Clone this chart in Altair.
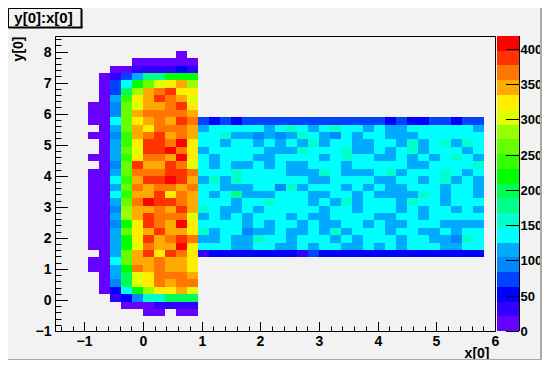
import altair as alt
import pandas as pd

X_MIN, X_MAX, Y_MIN, Y_MAX = -1.5, 6.0, -1.0, 8.5
NBINS = 40
Z_MAX = 418.0
PALETTE = ["#6600ff", "#3300ff", "#0000ff", "#0044ff", "#0088ff", "#00aaff", "#00ffff",
           "#00ffcc", "#00ff88", "#00ff55", "#00ff00", "#33ff00", "#66ff00", "#99ff00",
           "#e0ff00", "#ffee00", "#ffaa00", "#ff7700", "#ff3300", "#ff0000"]
DIGITS = "0123456789abcdefghij"

# colour level per bin, x bins 3..12, keyed by y bin
LEFT = {
    37: "........0.", 36: "....000000", 35: "..00111121", 34: ".013588aaa",
    33: ".036acefgd", 32: ".039dghiff", 31: ".05bfgihge", 30: "004cegghif",
    29: "004cghhhhg", 28: "006cfghgih", 27: ".05cgfhhhg", 26: "004bghighg",
    25: ".05bfiihjf", 24: ".05ceiijhf", 23: "005bfhhgjf", 22: ".04ciggihe",
    21: "005chhhiih", 20: "006bgiijig", 19: "005chghhgh", 18: "006bggifhg",
    17: "005chjiihg", 16: "004dgghgig", 15: "005dgihhhe", 14: "004afihgjf",
    13: "005cfgiggf", 12: "005afighih", 11: "005aehggjf", 10: ".05cgifihf",
    9: "006cgghggf", 8: "005ahghggf", 7: ".059efhhhg", 6: ".049efhghh",
    5: ".026adffge", 4: "..12477999", 3: "...0001111", 2: ".....00.00",
}
# colour level per bin, x bins 13..38, keyed by y bin
RIGHT = {
    28: "32323333333333333232233233"[:26],
    27: "56666656765676656556666665",
    26: "66755454576546566555666666",
    25: "66566565657566556657567576",
    24: "56666655576667556567566656",
    23: "65666556666567665565656765",
    22: "65655656556665666665566667",
    21: "66676666555765556756667656",
    20: "57576666665566665566567565",
    19: "66555664756665656556665665",
    18: "65685556665566565555765665",
    17: "66656676665657566657665666",
    16: "76556566666566566656566565",
    15: "56565666565566665566566666",
    14: "66665656656556656556665555",
    13: "75664556556575666566556566",
    12: "55655766566656566656655476",
    11: "66655665565665565656665566",
    10: "12222222213222222222222222",
}

rows = []
for j, s in LEFT.items():
    for k, ch in enumerate(s):
        if ch != ".":
            rows.append((3 + k, j, DIGITS.index(ch)))
for j, s in RIGHT.items():
    for k, ch in enumerate(s):
        rows.append((13 + k, j, DIGITS.index(ch)))

band = Z_MAX / len(PALETTE)
dx = (X_MAX - X_MIN) / NBINS
dy = (Y_MAX - Y_MIN) / NBINS
cells = pd.DataFrame([
    {"x0": X_MIN + i * dx, "x1": X_MIN + (i + 1) * dx,
     "y0": Y_MIN + j * dy, "y1": Y_MIN + (j + 1) * dy,
     "z": (lev + 0.5) * band} for i, j, lev in rows])
bar = pd.DataFrame([{"z0": k * band, "z1": (k + 1) * band, "z": (k + 0.5) * band}
                    for k in range(len(PALETTE))])

W, H = 440, 295
FONT = "Liberation Sans"
edges = [(k + 1) * band for k in range(len(PALETTE) - 1)]
color = alt.Color("z:Q", scale=alt.Scale(type="threshold", domain=edges, range=PALETTE), legend=None)

x_major = [-1, 0, 1, 2, 3, 4, 5, 6]
y_major = [-1, 0, 1, 2, 3, 4, 5, 6, 7, 8]
x_minor = [-1.4, -1.2, -0.8, -0.6, -0.4, -0.2, 0.2, 0.4, 0.6, 0.8, 1.2, 1.4, 1.6, 1.8, 2.2, 2.4, 2.6, 2.8,
           3.2, 3.4, 3.6, 3.8, 4.2, 4.4, 4.6, 4.8, 5.2, 5.4, 5.6, 5.8]
y_minor = [-0.8, -0.6, -0.4, -0.2, 0.2, 0.4, 0.6, 0.8, 1.2, 1.4, 1.6, 1.8, 2.2, 2.4, 2.6, 2.8, 3.2, 3.4, 3.6, 3.8,
           4.2, 4.4, 4.6, 4.8, 5.2, 5.4, 5.6, 5.8, 6.2, 6.4, 6.6, 6.8, 7.2, 7.4, 7.6, 7.8, 8.2, 8.4]
z_major = [0, 50, 100, 150, 200, 250, 300, 350, 400]

xs = alt.Scale(domain=[X_MIN, X_MAX], nice=False, zero=False, round=True)
ys = alt.Scale(domain=[Y_MIN, Y_MAX], nice=False, zero=False, round=True)
zs = alt.Scale(domain=[0, Z_MAX], nice=False, zero=False, round=True)

lab = dict(labelFont=FONT, labelFontWeight="bold", labelColor="black", labelOverlap=False,
           labelFlush=False, labelBound=False, ticks=False, domain=False, grid=False,
           titleFont=FONT, titleFontWeight="bold", titleFontSize=14, titleColor="black")

heat = alt.Chart(cells).mark_rect(strokeWidth=0).encode(
    x=alt.X("x0:Q", scale=xs, axis=alt.Axis(values=x_major, tickCount=len(x_major), format="d", labelPadding=3,
                                            labelFontSize=14, title="x[0]",
                                            titleX=W - 6, titleY=22, titleAlign="right", titleBaseline="middle", **lab)),
    x2="x1:Q",
    y=alt.Y("y0:Q", scale=ys, axis=alt.Axis(values=y_major, tickCount=len(y_major), format="d", labelPadding=4,
                                            labelFontSize=14, title="y[0]",
                                            titleX=-36.5, titleY=0, titleAlign="right", titleAngle=270,
                                            titleBaseline="middle", **lab)),
    y2="y1:Q",
    fill=color,
)


def xticks(vals, length):
    d = pd.DataFrame({"v": vals})
    return alt.Chart(d).mark_rule(color="black", strokeWidth=1, xOffset=0.5).encode(
        x=alt.X("v:Q", scale=xs), y=alt.value(H), y2=alt.value(H - length))


def yticks(vals, length):
    d = pd.DataFrame({"v": vals})
    return alt.Chart(d).mark_rule(color="black", strokeWidth=1, yOffset=0.5).encode(
        y=alt.Y("v:Q", scale=ys), x=alt.value(0), x2=alt.value(length))


one = pd.DataFrame({"a": [0]})


def box(x, x2, y, y2, **kw):
    return alt.Chart(one).mark_rect(**kw).encode(
        x=alt.value(x), x2=alt.value(x2), y=alt.value(y), y2=alt.value(y2))


decor = [
    box(485, 487, -28, 324, fill="#a9a9a9"),
    box(-47, 487, 323, 324, fill="#a9a9a9"),
    box(-46.5, 26.5, -27.5, -8.5, fill="#f2f2f2", stroke="black", strokeWidth=1),
    box(25.5, 27.5, -27, -8, fill="black"),
    box(-46.5, 27.5, -9.5, -7.5, fill="black"),
    alt.Chart(pd.DataFrame({"t": ["y[0]:x[0]"]})).mark_text(
        font=FONT, fontWeight="bold", fontSize=15, color="black", align="center", baseline="middle"
    ).encode(text="t:N", x=alt.value(-11.5), y=alt.value(-18)),
]

main = alt.layer(heat, xticks(x_major, 9), xticks(x_minor, 4.5), yticks(y_major, 13), yticks(y_minor, 6.5), *decor)

CB0, CB1 = 442, 464
bar_rect = alt.Chart(bar).mark_rect(strokeWidth=0).encode(
    x=alt.value(CB0), x2=alt.value(CB1),
    y=alt.Y("z0:Q", scale=zs, axis=alt.Axis(values=z_major, tickCount=len(z_major), orient="right", offset=CB1 - W,
                                            format="d", labelPadding=1, labelFontSize=13, title=None, **lab)),
    y2="z1:Q",
    fill=color,
)
bar_ticks = alt.Chart(pd.DataFrame({"v": z_major})).mark_rule(color="black", strokeWidth=1, yOffset=0.5).encode(
    y=alt.Y("v:Q", scale=zs), x=alt.value(CB1 - 13), x2=alt.value(CB1))
bar_edge = alt.Chart(one).mark_rule(color="black", strokeWidth=1, xOffset=0.5).encode(
    x=alt.value(CB1), y=alt.value(0), y2=alt.value(H))

colorbar = alt.layer(bar_rect, bar_ticks, bar_edge)

chart = alt.layer(main, colorbar).resolve_scale(y="independent").properties(
    width=W, height=H, background="#f2f2f2",
    padding={"left": 0, "right": 0, "top": 0, "bottom": 0},
).configure_view(stroke="black", strokeWidth=1, fill="#f2f2f2")

chart.save("out.html", embed_options={"renderer": "svg", "actions": False})
